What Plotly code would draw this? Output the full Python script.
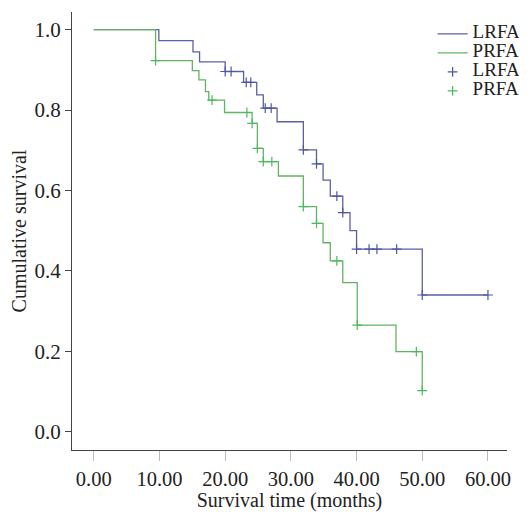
import plotly.graph_objects as go

# ---- data ----
lrfa_event_times = [9.9, 15.1, 16.1, 20.0, 22.8, 24.8, 25.8, 27.9, 31.9, 33.9, 34.9, 36.0, 37.9, 39.0, 40.0, 50.0]
lrfa_survival    = [0.973, 0.945, 0.920, 0.896, 0.869, 0.838, 0.805, 0.771, 0.701, 0.666, 0.626, 0.586, 0.545, 0.500, 0.454, 0.340]
lrfa_censored    = [20.0, 20.9, 23.2, 23.9, 26.1, 27.0, 31.9, 33.9, 37.0, 37.9, 40.0, 41.9, 43.1, 46.1, 50.0, 60.0]
lrfa_end = 60.0

prfa_event_times = [9.4, 15.0, 16.0, 17.0, 17.5, 19.9, 24.1, 24.9, 25.8, 28.1, 31.9, 33.9, 34.9, 36.0, 37.9, 40.1, 46.0, 50.0]
prfa_survival    = [0.923, 0.898, 0.875, 0.846, 0.825, 0.794, 0.767, 0.705, 0.672, 0.636, 0.560, 0.518, 0.470, 0.425, 0.371, 0.265, 0.199, 0.102]
prfa_censored    = [9.4, 18.0, 23.3, 24.1, 24.9, 25.8, 27.1, 31.9, 33.9, 37.0, 40.1, 49.1, 50.0]
prfa_end = 50.0

x_ticks = [0, 10, 20, 30, 40, 50, 60]
y_ticks = [0.0, 0.2, 0.4, 0.6, 0.8, 1.0]

BLUE = "#5c5fa4"
GREEN = "#62b462"
BLUE_M = "#4f56a0"
GREEN_M = "#4cb860"
FONT = "Liberation Serif"


def step_xy(times, surv, end):
    xs = [0.0] + list(times) + [end]
    ys = [1.0] + list(surv) + [surv[-1]]
    return xs, ys


def surv_at(t, times, surv):
    s = 1.0
    for ti, si in zip(times, surv):
        if t >= ti:
            s = si
    return s


def lg(name):
    return '<span style="font-size:19px">' + name + '</span>'


fig = go.Figure()
lx, ly = step_xy(lrfa_event_times, lrfa_survival, lrfa_end)
px_, py_ = step_xy(prfa_event_times, prfa_survival, prfa_end)

fig.add_trace(go.Scatter(x=lx, y=ly, mode="lines", line=dict(color=BLUE, width=1.3, shape="hv"),
                         name=lg("LRFA")))
fig.add_trace(go.Scatter(x=px_, y=py_, mode="lines", line=dict(color=GREEN, width=1.3, shape="hv"),
                         name=lg("PRFA")))
fig.add_trace(go.Scatter(x=lrfa_censored,
                         y=[surv_at(t, lrfa_event_times, lrfa_survival) for t in lrfa_censored],
                         mode="markers", name=lg("LRFA"),
                         marker=dict(symbol="cross-thin-open", size=7, color=BLUE_M,
                                     line=dict(color=BLUE_M, width=1.2))))
fig.add_trace(go.Scatter(x=prfa_censored,
                         y=[surv_at(t, prfa_event_times, prfa_survival) for t in prfa_censored],
                         mode="markers", name=lg("PRFA"),
                         marker=dict(symbol="cross-thin-open", size=7, color=GREEN_M,
                                     line=dict(color=GREEN_M, width=1.2))))

# page body has an 8px default margin, so the figure is sized to fit inside the window
fig.update_layout(
    width=519, height=504,
    margin=dict(l=64, r=20, t=4, b=62, autoexpand=False),
    paper_bgcolor="white", plot_bgcolor="white",
    font=dict(family=FONT, size=19, color="#222"),
    showlegend=True,
    legend=dict(x=0.829, y=0.983, xanchor="left", yanchor="top",
                font=dict(family=FONT, size=11, color="#222"),
                bgcolor="rgba(0,0,0,0)", tracegroupgap=0, itemwidth=30),
)
fig.update_xaxes(range=[-3.32, 62.9], tickvals=x_ticks, tickformat=".2f", automargin=False,
                 showline=True, linecolor="#444", linewidth=1, mirror=False,
                 ticks="outside", ticklen=10, tickcolor="#bbb", showgrid=False, zeroline=False,
                 title=dict(text="Survival time (months)", font=dict(family=FONT, size=20), standoff=5),
                 tickfont=dict(family=FONT, size=20.5))
fig.update_yaxes(range=[-0.0455, 1.044], tickvals=y_ticks, tickformat=".1f", automargin=False,
                 showline=True, linecolor="#444", linewidth=1, mirror=False,
                 ticks="outside", ticklen=6, tickcolor="#444", showgrid=False, zeroline=False,
                 title=dict(text="Cumulative survival", font=dict(family=FONT, size=20), standoff=5),
                 tickfont=dict(family=FONT, size=21))

fig.write_html("out.html")
